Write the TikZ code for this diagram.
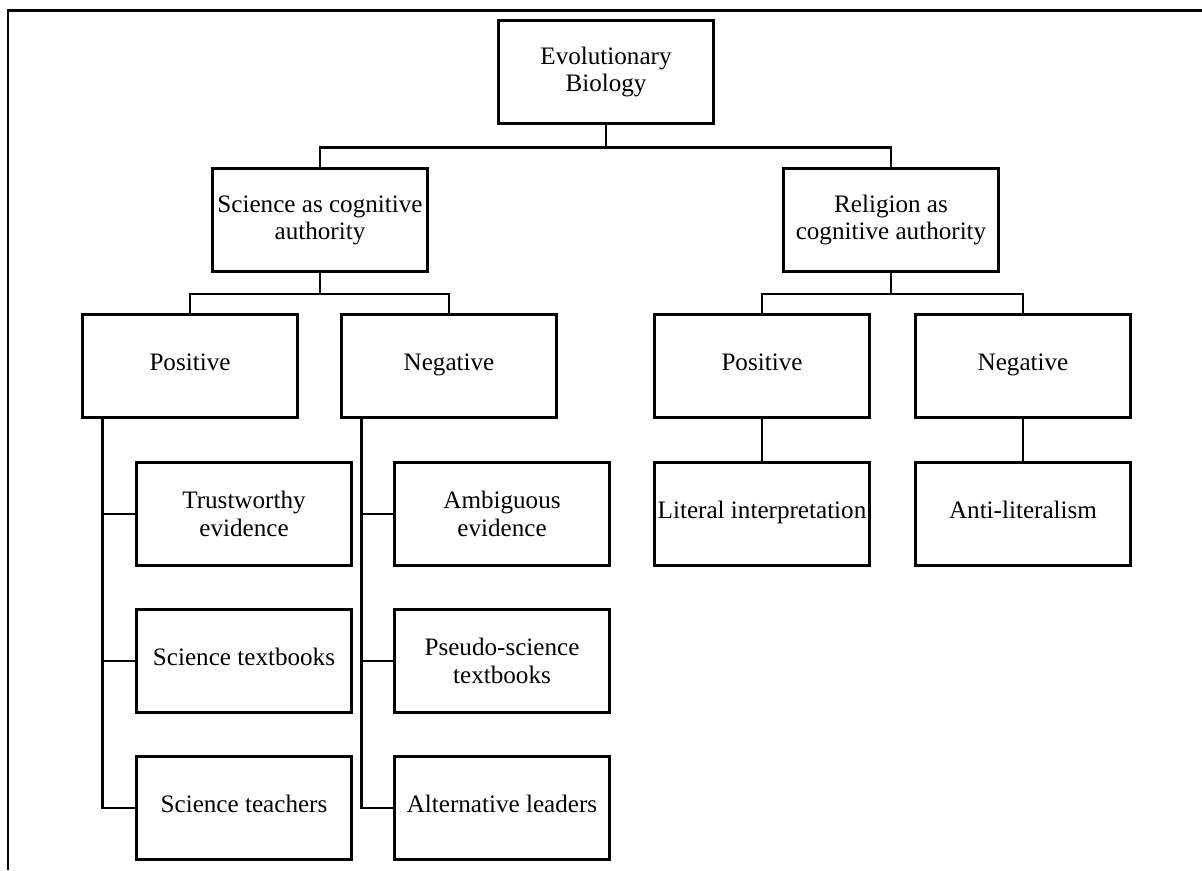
\documentclass[tikz,border=0pt]{standalone}
\usepackage{fontspec}
\setmainfont{Liberation Serif}
\usetikzlibrary{positioning}
\tikzset{
    topic/.style={draw,line width=1.3pt,minimum width=4.3cm,minimum height=2.06cm,
        inner sep=1pt,align=center,font=\fontsize{14.3}{15.5}\selectfont},
    oneline/.style={topic,text height=1.45ex,text depth=0.45ex},
    link/.style={line width=1.3pt}
}

\begin{document}
\begin{tikzpicture}[x=0.02cm,y=-0.02cm]
        \useasboundingbox (0,0) rectangle (1202,870);
        \draw [line width=1.7pt] (8,870) -- (8,10) -- (1202,10);
        % top levels
        \node [topic] (evo) at (606,72) {Evolutionary\\Biology};
        \node [topic] (sci) at (320,220) {Science as cognitive\\authority};
        \node [topic] (rel) at (891,220) {Religion as\\cognitive authority};
        \node [oneline] (spos) at (190,366) {Positive};
        \node [oneline] (sneg) at (449,366) {Negative};
        \node [oneline] (rpos) at (762,366) {Positive};
        \node [oneline] (rneg) at (1023,366) {Negative};
        % leaves
        \node [topic] (trust) at (244,514) {Trustworthy\\evidence};
        \node [oneline] (stext) at (244,661) {Science textbooks};
        \node [oneline] (steach) at (244,808) {Science teachers};
        \node [topic] (ambig) at (502,514) {Ambiguous\\evidence};
        \node [topic] (ptext) at (502,661) {Pseudo-science\\textbooks};
        \node [oneline] (alead) at (502,808) {Alternative leaders};
        \node [oneline] (lit) at (762,514) {Literal interpretation};
        \node [oneline] (anti) at (1023,514) {Anti-literalism};
        % connectors
        \foreach \kid in {sci,rel} {
            \draw [link] (evo.south) -- ++(0,23) -| (\kid.north);
        }
        \foreach \kid in {spos,sneg} {
            \draw [link] (sci.south) -- ++(0,21) -| (\kid.north);
        }
        \foreach \kid in {rpos,rneg} {
            \draw [link] (rel.south) -- ++(0,21) -| (\kid.north);
        }
        \foreach \kid in {trust,stext,steach} {
            \draw [link] ([xshift=0.42cm]spos.south west) |- (\kid.west);
        }
        \foreach \kid in {ambig,ptext,alead} {
            \draw [link] ([xshift=0.42cm]sneg.south west) |- (\kid.west);
        }
        \draw [link] (rpos) -- (lit);
        \draw [link] (rneg) -- (anti);
    \end{tikzpicture}
\end{document}
